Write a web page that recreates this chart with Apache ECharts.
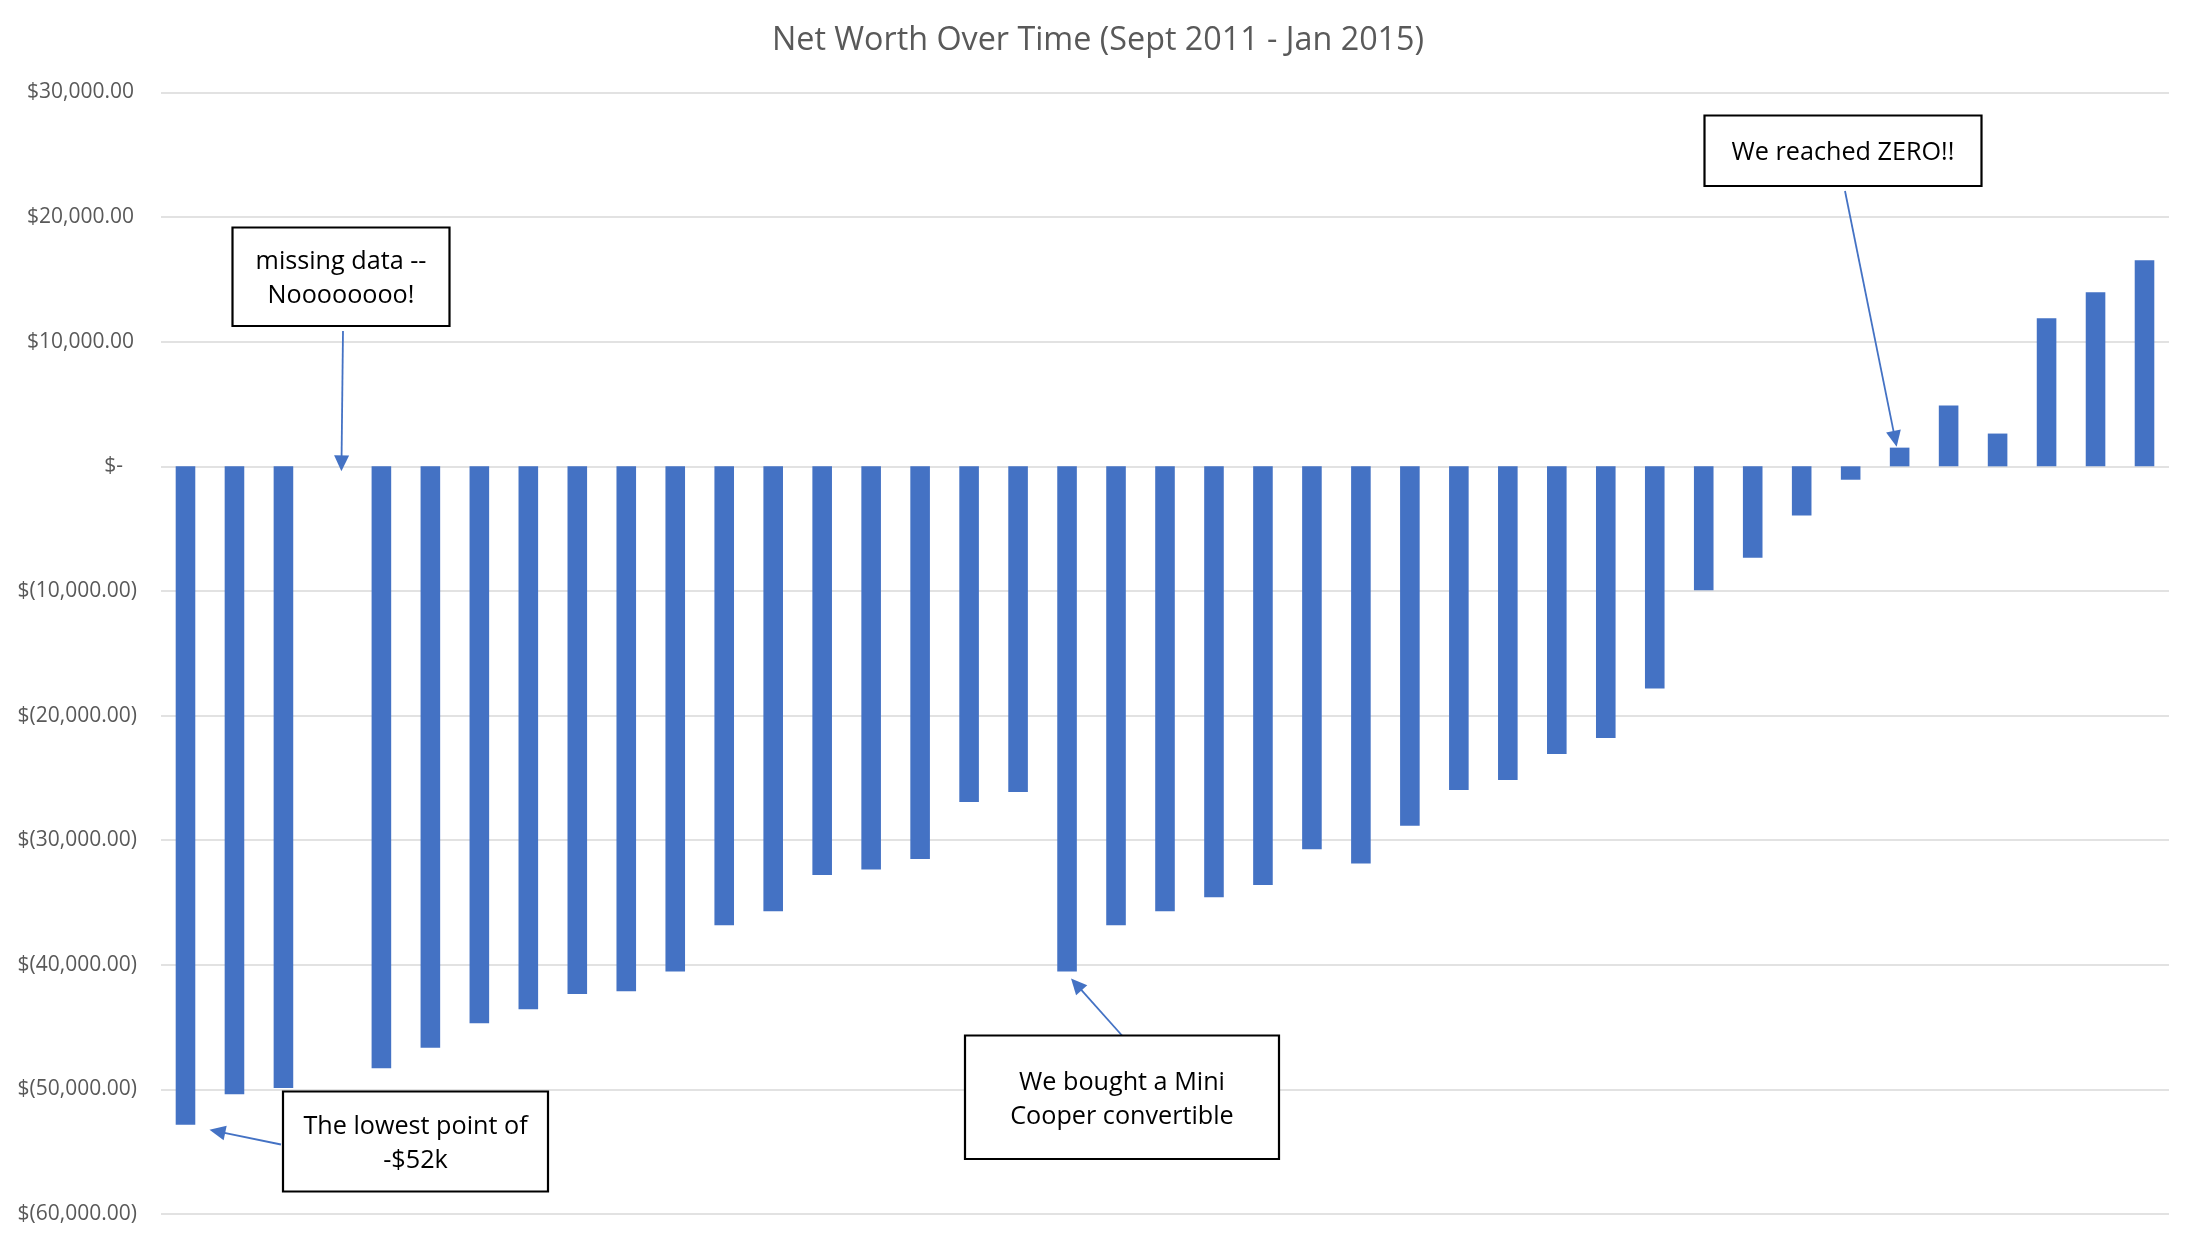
<!DOCTYPE html>
<html>
<head>
<meta charset="utf-8">
<script src="https://cdn.jsdelivr.net/npm/echarts@6/dist/echarts.min.js"></script>
<style>
html,body{margin:0;padding:0;background:#ffffff;}
#chart{width:2196px;height:1240px;}
</style>
</head>
<body>
<div id="chart"></div>
<script>
// ---- data ----
const months = [
  'Sep 2011','Oct 2011','Nov 2011','Dec 2011',
  'Jan 2012','Feb 2012','Mar 2012','Apr 2012','May 2012','Jun 2012','Jul 2012','Aug 2012','Sep 2012','Oct 2012','Nov 2012','Dec 2012',
  'Jan 2013','Feb 2013','Mar 2013','Apr 2013','May 2013','Jun 2013','Jul 2013','Aug 2013','Sep 2013','Oct 2013','Nov 2013','Dec 2013',
  'Jan 2014','Feb 2014','Mar 2014','Apr 2014','May 2014','Jun 2014','Jul 2014','Aug 2014','Sep 2014','Oct 2014','Nov 2014','Dec 2014',
  'Jan 2015'
];
const netWorth = [
  -52840, -50400, -49890, null,
  -48300, -46650, -44700, -43570, -42350, -42130, -40530, -36830, -35710, -32800, -32350, -31520,
  -26930, -26130, -40530, -36830, -35710, -34590, -33600, -30720, -31870, -28850, -25970, -25170,
  -23090, -21810, -17820, -9950, -7340, -3950, -1075, 1500, 4890, 2630, 11890, 13970,
  16530
];
const yMin = -60000;
const yMax = 30000;
const yStep = 10000;
const titleText = 'Net Worth Over Time (Sept 2011 - Jan 2015)';
const noteTexts = [
  ['missing data --', 'Noooooooo!'],
  ['The lowest point of', '-$52k'],
  ['We bought a Mini', 'Cooper convertible'],
  ['We reached ZERO!!']
];
// month index each note points at, and the value it points at
const noteTargetIndex = [3, 0, 18, 35];
const noteTargetValue = [0, -52840, -40530, 1500];

// ---- layout / style (not data) ----
const BAR = '#4472C4';
const FONT = '"Open Sans", "Noto Sans", sans-serif';
const noteLayout = [
  {box: [232.5, 227.5, 217, 98.5],  from: 'bottom', tipOff: [9, 5]},
  {box: [283, 1091.5, 265, 100],    from: 'left',   tipOff: [24, 5]},
  {box: [965, 1035.5, 314, 123.5],  from: 'top',    tipOff: [4, 7]},
  {box: [1704.5, 115.5, 277, 70.5], from: 'bottom', tipOff: [-3, -1]}
];

function fmtMoney(v) {
  if (v === 0) return '{z|$-}';
  const s = Math.abs(v).toLocaleString('en-US', {minimumFractionDigits: 2, maximumFractionDigits: 2});
  return v < 0 ? '$(' + s + ')' : '{p|$' + s + '}';
}

const chart = echarts.init(document.getElementById('chart'), null, {renderer: 'canvas'});
chart.setOption({
  animation: false,
  backgroundColor: '#ffffff',
  title: {
    text: titleText,
    left: 'center',
    top: 25,
    padding: 0,
    textStyle: {fontFamily: FONT, fontSize: 32.3, fontWeight: 'normal', color: '#595959'}
  },
  grid: {left: 161, right: 27, top: 92.5, bottom: 26, containLabel: false},
  xAxis: {
    type: 'category',
    data: months,
    axisLine: {show: false},
    axisTick: {show: false},
    axisLabel: {show: false},
    splitLine: {show: false}
  },
  yAxis: {
    type: 'value',
    min: yMin,
    max: yMax,
    interval: yStep,
    axisLine: {show: false},
    axisTick: {show: false},
    splitLine: {show: true, lineStyle: {color: '#d9d9d9', width: 1.5}},
    axisLabel: {
      margin: 24,
      align: 'right',
      fontFamily: FONT,
      fontSize: 21,
      color: '#595959',
      formatter: fmtMoney,
      rich: {
        p: {fontFamily: FONT, fontSize: 21, color: '#595959', padding: [0, 3, 0, 0]},
        z: {fontFamily: FONT, fontSize: 21, color: '#595959', padding: [0, 14, 0, 0]}
      }
    }
  },
  series: [{
    type: 'bar',
    data: netWorth,
    barWidth: '40%',
    itemStyle: {color: BAR},
    silent: true
  }]
});

// ---- annotations: arrow tips come from the data via the chart's own scales ----
const graphics = [];
noteTexts.forEach(function (lines, i) {
  const L = noteLayout[i];
  const [bx, by, bw, bh] = L.box;
  const p = chart.convertToPixel({gridIndex: 0}, [noteTargetIndex[i], noteTargetValue[i]]);
  const tip = [p[0] + L.tipOff[0], p[1] + L.tipOff[1]];
  let start;
  if (L.from === 'bottom') start = [bx + bw / 2 + 2, by + bh + 5];
  else if (L.from === 'top') start = [bx + bw / 2, by];
  else start = [bx - 2, by + bh * 0.53];
  const dx = tip[0] - start[0], dy = tip[1] - start[1];
  const len = Math.sqrt(dx * dx + dy * dy);
  const ux = dx / len, uy = dy / len;
  const HL = 16, HW = 7.5;
  const base = [tip[0] - ux * HL, tip[1] - uy * HL];
  graphics.push({
    type: 'line', silent: true, z: 100,
    shape: {x1: start[0], y1: start[1], x2: base[0] + ux * 2, y2: base[1] + uy * 2},
    style: {stroke: BAR, lineWidth: 1.8}
  });
  graphics.push({
    type: 'polygon', silent: true, z: 100,
    shape: {points: [tip, [base[0] - uy * HW, base[1] + ux * HW], [base[0] + uy * HW, base[1] - ux * HW]]},
    style: {fill: BAR}
  });
  graphics.push({
    type: 'rect', silent: true, z: 100,
    shape: {x: bx, y: by, width: bw, height: bh},
    style: {fill: '#ffffff', stroke: '#000000', lineWidth: 2.2}
  });
  graphics.push({
    type: 'text', silent: true, z: 101,
    style: {
      text: lines.join('\n'),
      x: bx + bw / 2, y: by + bh / 2 + 2.5,
      align: 'center', verticalAlign: 'middle',
      fontFamily: FONT, fontSize: 25.2, lineHeight: 34, fill: '#000000'
    }
  });
});
chart.setOption({graphic: graphics});
</script>
</body>
</html>
